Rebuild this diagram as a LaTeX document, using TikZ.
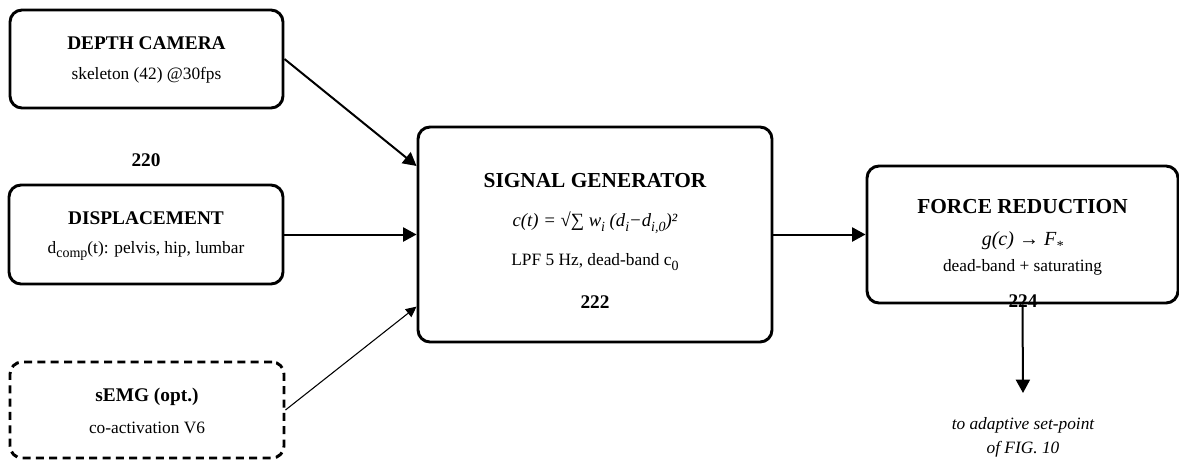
\documentclass[tikz,border=0pt]{standalone}
\usepackage{fontspec}
\setmainfont{Liberation Serif}
\usetikzlibrary{arrows.meta}

\newcommand\lowsub[1]{\raisebox{-0.55ex}{\fontsize{10.5}{11}\selectfont #1}}

\tikzset{
  blk/.style={draw,line width=2.2pt,rounded corners=9pt},
  ttl/.style={inner sep=0pt,font=\fontsize{14.5}{17}\selectfont\bfseries},
  bigttl/.style={inner sep=0pt,font=\fontsize{16}{19}\selectfont\bfseries},
  txt/.style={inner sep=0pt,font=\fontsize{13}{15}\selectfont},
  flow/.style={line width=1.5pt,-{Triangle[length=10pt,width=10.5pt]}},
}

\begin{document}
\begin{tikzpicture}[x=0.75pt,y=-0.75pt]
  \useasboundingbox (0,0) rectangle (1179,461);

  % input blocks
  \node[blk,minimum width=204.75pt,minimum height=73.5pt] (cam) at (146.5,59) {};
  \node[blk,minimum width=205.5pt,minimum height=74.25pt] (disp) at (146,234.5) {};
  \node[blk,dash pattern=on 6pt off 4pt,minimum width=205.5pt,minimum height=72pt] (semg) at (147,410) {};

  % processing blocks
  \node[blk,minimum width=265.5pt,minimum height=161.25pt] (sig) at (595,234.5) {};
  \node[blk,minimum width=233.25pt,minimum height=102.75pt] (force) at (1022.5,234.5) {};

  % texts
  \node[ttl] (cam-t) at (146.5,43) {DEPTH CAMERA};
  \node[txt] (cam-s) at (146.5,75) {skeleton (42) @30fps};
  \node[ttl] (lbl220) at (146,160) {220};
  \node[ttl] (disp-t) at (146,218) {DISPLACEMENT};
  \node[txt] (disp-s) at (146,251) {d\lowsub{comp}(t): pelvis, hip, lumbar};
  \node[ttl] (semg-t) at (147,397) {sEMG (opt.)};
  \node[txt] (semg-s) at (147,428) {co-activation V6};

  \node[bigttl] (sig-t) at (595,181) {SIGNAL GENERATOR};
  \node[txt,font=\fontsize{14}{16}\selectfont\itshape] (sig-f) at (595,223)
    {c(t) = √∑ w\lowsub{i} (d\lowsub{i}−d\lowsub{i,0})²};
  \node[txt] (sig-s) at (595,262) {LPF 5 Hz, dead-band c\lowsub{0}};
  \node[ttl] (lbl222) at (595,302) {222};

  \node[bigttl] (force-t) at (1022.5,207) {FORCE REDUCTION};
  \node[txt,font=\fontsize{15}{17}\selectfont\itshape] (force-f) at (1022.5,241)
    {g(c) → F\lowsub{*}};
  \node[txt] (force-s) at (1022.5,267) {dead-band + saturating};
  \node[ttl] (lbl224) at (1023,301) {224};

  \coordinate (out) at (1023,393);
  \node[txt,font=\fontsize{13}{15}\selectfont\itshape,align=center] (note) at (1023,437)
    {to adaptive set-point\\[3pt]of FIG. 10};

  % connectors
  \draw[flow] (cam.east) -- (sig.159);
  \draw[flow] (disp.east) -- (sig.west);
  \draw[line width=0.8pt,-{Triangle[length=8pt,width=7.5pt]}] (semg.east) -- (sig.202);
  \draw[flow] (sig.east) -- (force.west);
  \draw[flow] (force.south) -- (out);

\end{tikzpicture}
\end{document}
